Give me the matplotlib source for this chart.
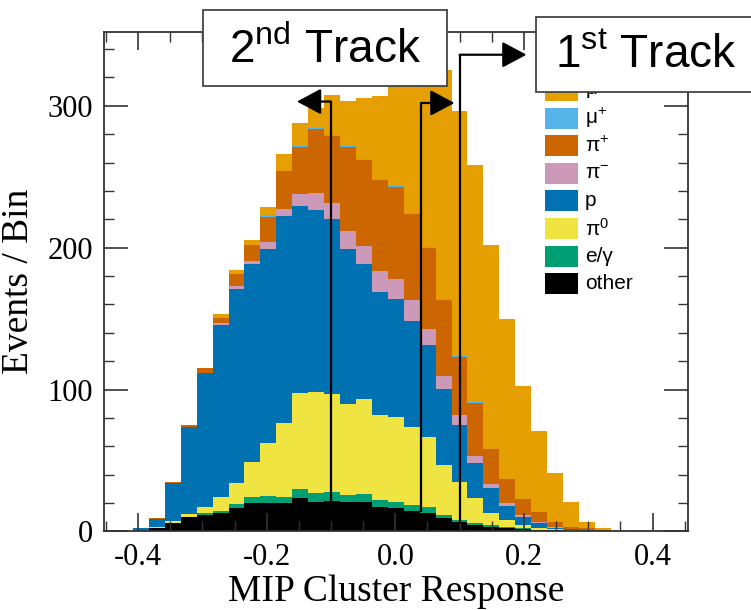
import numpy as np
import matplotlib
matplotlib.use("Agg")
import matplotlib.pyplot as plt
from matplotlib.patches import Rectangle

# ---------------- data ----------------
bin_start = -0.4575
bin_width = 0.02477
other  = [0, 0, 0.3, 2.7, 6.2, 10.0, 11.6, 13.3, 16.3, 20.3, 19.9, 19.9, 23.4, 20.6, 21.5, 20.6, 21.0, 17.5,
          16.3, 14.7, 13.3, 9.3, 6.5, 4.6, 3.4, 2.2, 1.5, 1.0, 0.8, 0.4, 0.2, 0, 0, 0, 0, 0]
egamma = [0.4, 0.5, 0, 0, 0, 0.3, 1.2, 1.2, 2.9, 4.3, 5.1, 4.7, 6.6, 6.8, 6.6, 5.1, 5.4, 4.7,
          4.7, 4.0, 3.7, 2.3, 1.6, 1.6, 1.2, 0.7, 0.7, 0.3, 0.1, 0.1, 0.1, 0.1, 0.2, 0.3, 0.3, 0.3]
pi0    = [0, 0, 0, 0.7, 1.2, 2.0, 4.2, 10.1, 14.8, 24.2, 37.4, 52.2, 67.5, 70.6, 68.9, 64.2, 66.8, 60.0,
          59.5, 54.8, 49.4, 35.3, 27.0, 17.2, 8.7, 5.2, 2.4, 1.4, 0.6, 0.3, 0.1, 0.1, 0, 0, 0, 0]
proton = [0, 0, 2.0, 5.4, 27.0, 61.2, 94.5, 121.0, 137.0, 139.6, 136.8, 145.7, 131.6, 128.8, 123.2, 109.3, 95.2, 86.3,
          83.3, 74.5, 65.2, 53.6, 40.0, 25.1, 17.1, 9.9, 5.9, 3.5, 1.2, 1.0, 0.4, 0.2, 0, 0, 0, 0]
pim    = [0, 0, 0, 0, 0, 0, 0, 1.2, 2.1, 2.4, 4.5, 4.7, 8.4, 11.8, 11.3, 12.9, 12.6, 14.9,
          14.1, 14.8, 11.2, 9.2, 7.1, 4.8, 2.9, 2.3, 1.1, 0.7, 0.3, 0.2, 0.1, 0.1, 0, 0, 0, 0]
pip    = [0, 0, 0, 0.5, 0.7, 1.6, 3.5, 4.0, 8.3, 10.8, 17.8, 26.6, 33.6, 45.3, 47.0, 59.0, 60.6, 64.2,
          64.8, 60.9, 56.9, 53.6, 41.0, 37.6, 24.6, 16.5, 11.1, 7.1, 3.5, 1.4, 1.3, 0.8, 0, 0, 0, 0]
mup    = [0, 0, 0, 0, 0, 0, 0, 0.3, 0.3, 0.4, 0.5, 0.6, 0.6, 0.6, 0.6, 0.6, 0.6, 0.6,
          0.6, 0.6, 0.6, 0.6, 0.5, 0.4, 0.3, 0.3, 0.2, 0.2, 0.1, 0.1, 0, 0, 0, 0, 0, 0]
mum    = [0, 0, 0, 0, 0, 0, 0.5, 2.0, 2.7, 3.6, 7.0, 11.6, 16.3, 14.0, 28.3, 31.5, 43.4, 58.5,
          74.7, 101.7, 131.7, 161.1, 172.3, 167.2, 143.9, 112.5, 79.9, 56.9, 34.4, 17.1, 4.7, 0.9, 0.4, 0, 0, 0]

components = [other, egamma, pi0, proton, pim, pip, mup, mum]
labels = ["other", "e/\u03b3", "\u03c0$^{0}$", "p", "\u03c0$^{-}$", "\u03c0$^{+}$", "\u03bc$^{+}$", "\u03bc$^{-}$"]
colors = ["#000000", "#009E73", "#F0E442", "#0072B2", "#CC99B8", "#CC6600", "#56B4E9", "#E69F00"]

# track markers: x position, line bottom, line top, arrow tip x
track_x      = [-0.1, 0.04, 0.1]
track_bottom = [21, 14, 6]
track_top    = [303, 302, 336]
track_tip    = [-0.153, 0.092, 0.204]
box_labels   = ["2$^{\\mathrm{nd}}$ Track", "1$^{\\mathrm{st}}$ Track"]

# ---------------- plot ----------------
plt.rcParams['mathtext.fontset'] = 'custom'
plt.rcParams['mathtext.rm'] = 'Liberation Sans'
plt.rcParams['mathtext.it'] = 'Liberation Sans:italic'

fig = plt.figure(figsize=(7.51, 6.10), dpi=100)
ax = fig.add_axes([0.1385, 0.1287, 0.7775, 0.8188])

nb = len(other)
edges = bin_start + bin_width * np.arange(nb + 1)
base = np.zeros(nb)
for vals, col in zip(components, colors):
    vals = np.asarray(vals, dtype=float)
    ax.stairs(base + vals, edges, baseline=base, fill=True, color=col, lw=0)
    base = base + vals

ax.set_xlim(-0.453, 0.455)
ax.set_ylim(0, 352)
ax.set_xticks([-0.4, -0.2, 0.0, 0.2, 0.4])
ax.set_xticklabels(["-0.4", "-0.2", "0.0", "0.2", "0.4"])
ax.set_xticks(np.arange(-0.45, 0.46, 0.05), minor=True)
ax.set_yticks([0, 100, 200, 300])
ax.set_yticks(np.arange(0, 352, 20), minor=True)
ax.tick_params(which='both', direction='in', top=True, right=True, color='#333333')
ax.tick_params(which='major', length=13, width=1.2, labelsize=22, pad=8)
ax.tick_params(which='minor', length=7, width=1.0)
ax.tick_params(axis='y', which='major', length=17)
for lab in ax.get_xticklabels() + ax.get_yticklabels():
    lab.set_family('Liberation Serif')
for s in ax.spines.values():
    s.set_linewidth(1.3)
    s.set_color('#333333')
ax.set_xlabel("MIP Cluster Response", family='Liberation Serif', fontsize=27, labelpad=2)
ax.set_ylabel("Events / Bin", family='Liberation Serif', fontsize=27, labelpad=8)

# track lines and arrows
for xv, yb, yt, tip in zip(track_x, track_bottom, track_top, track_tip):
    ax.plot([xv, xv], [yb, yt], color='black', lw=1.6, solid_capstyle='butt', zorder=5)
    ax.annotate('', xy=(tip, yt), xytext=(xv, yt),
                arrowprops=dict(arrowstyle='-|>,head_length=0.75,head_width=0.4',
                                color='black', lw=1.6, shrinkA=0, shrinkB=0,
                                mutation_scale=20), zorder=5)

# legend (manual, top to bottom)
leg_x0, leg_y0, leg_dy = 545 / 751, 1 - 90.5 / 610, 27.6 / 610
sw_w, sw_h = 33 / 751, 21 / 610
for i, (lab, col) in enumerate(zip(labels[::-1], colors[::-1])):
    yc = leg_y0 - i * leg_dy
    fig.add_artist(Rectangle((leg_x0, yc - sw_h / 2), sw_w, sw_h, transform=fig.transFigure,
                             facecolor=col, edgecolor='none', zorder=6))
    fig.text(leg_x0 + sw_w + 7 / 751, yc, lab, fontsize=15, family='Liberation Sans',
             va='center', ha='left', zorder=6)

# boxes
boxes = [(203, 10, 244, 76), (536, 17, 219, 75)]
for (bx, by, bw, bh), txt in zip(boxes, box_labels):
    fig.add_artist(Rectangle((bx / 751, 1 - (by + bh) / 610), bw / 751, bh / 610,
                             transform=fig.transFigure, facecolor='white',
                             edgecolor='#444444', lw=1.3, zorder=10))
    fig.text((bx + bw / 2) / 751, 1 - (by + bh / 2 + 2) / 610, txt, fontsize=33,
             family='Liberation Sans', ha='center', va='center', zorder=11)

fig.savefig("out.png", dpi=100)
